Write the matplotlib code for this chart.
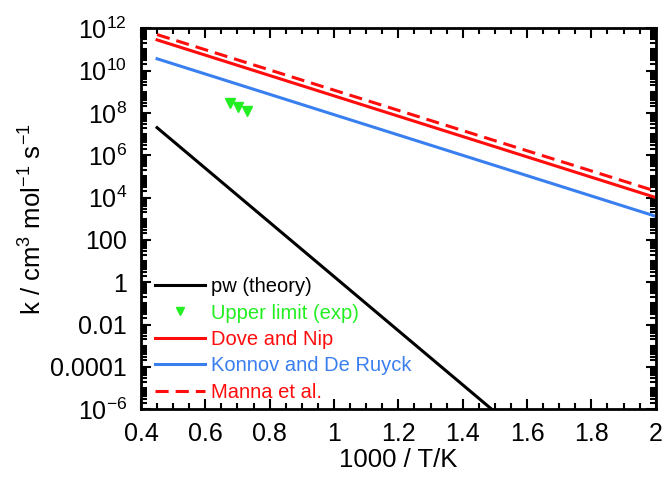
import numpy as np
import matplotlib
matplotlib.use('Agg')
import matplotlib.pyplot as plt
from matplotlib.ticker import FixedLocator, FixedFormatter, LogLocator, MultipleLocator, NullFormatter

plt.rcParams['font.family'] = ['Liberation Sans', 'DejaVu Sans']
plt.rcParams['mathtext.fontset'] = 'custom'
plt.rcParams['mathtext.rm'] = 'Liberation Sans'
plt.rcParams['mathtext.it'] = 'Liberation Sans'

# ==========================
#      Data
# ==========================
# Arrhenius lines: endpoints in 1000/T
pw_x = [0.45, 1.49]
pw_k = [2.0e7, 1.0e-6]

dove_x = [0.45, 2.0]
dove_k = [2.8e11, 1.0e4]

konnov_x = [0.45, 2.0]
konnov_k = [3.6e10, 1.3e3]

manna_x = [0.45, 2.0]
manna_k = [5.0e11, 2.0e4]

exp_x = [0.676, 0.701, 0.729]
exp_k = [2.9e8, 1.9e8, 1.2e8]

ytick_vals = [1e-6, 1e-4, 1e-2, 1, 1e2, 1e4, 1e6, 1e8, 1e10, 1e12]
ytick_labels = [r'$\mathregular{10^{-6}}$', '0.0001', '0.01', '1', '100',
                r'$\mathregular{10^{4}}$', r'$\mathregular{10^{6}}$',
                r'$\mathregular{10^{8}}$', r'$\mathregular{10^{10}}$',
                r'$\mathregular{10^{12}}$']

# ==========================
#        Plotting
# ==========================
fig = plt.figure(figsize=(6.65, 4.78), dpi=100)
ax = fig.add_axes([0.212, 0.144, 0.774, 0.797])

red = '#ff0d0d'
blue = '#3a7ff0'
green = '#22ee22'

ax.plot(pw_x, pw_k, color='black', lw=2.2, label='pw (theory)')
ax.plot(exp_x, exp_k, 'v', color=green, ms=7, ls='none', label='Upper limit (exp)')
ax.plot(dove_x, dove_k, color=red, lw=2.2, label='Dove and Nip')
ax.plot(konnov_x, konnov_k, color=blue, lw=2.2, label='Konnov and De Ruyck')
ax.plot(manna_x, manna_k, color=red, lw=2.2, ls=(0, (4.3, 2.3)), label='Manna et al.')

ax.set_yscale('log')
ax.set_xlim(0.4, 2.0)
ax.set_ylim(1e-6, 1e12)

ax.xaxis.set_major_locator(MultipleLocator(0.2))
ax.xaxis.set_minor_locator(MultipleLocator(0.05))
ax.xaxis.set_major_formatter(plt.FuncFormatter(lambda v, p: '%g' % round(v, 2)))

ax.yaxis.set_major_locator(FixedLocator(ytick_vals))
ax.yaxis.set_major_formatter(FixedFormatter(ytick_labels))
ax.yaxis.set_minor_locator(LogLocator(base=10, subs=np.arange(1, 10), numticks=40))
ax.yaxis.set_minor_formatter(NullFormatter())

ax.tick_params(which='both', direction='in', top=True, right=True, labelsize=18, width=1.5)
ax.tick_params(which='major', length=7)
ax.tick_params(axis='y', which='major', pad=10)
ax.tick_params(axis='x', which='major', pad=9)
ax.tick_params(which='minor', length=4)
for s in ax.spines.values():
    s.set_linewidth(2)

ax.set_xlabel('1000 / T/K', fontsize=18.5, labelpad=2)
ax.set_ylabel(r'k / cm$^3$ mol$^{-1}$ s$^{-1}$', fontsize=18.5, labelpad=3)

leg = ax.legend(loc='lower left', bbox_to_anchor=(0.012, -0.002), frameon=False,
                fontsize=14.5, handlelength=2.45, handletextpad=0.3,
                labelspacing=0.37, borderaxespad=0.0, borderpad=0.4,
                markerscale=0.8, numpoints=1)
for txt, col in zip(leg.get_texts(), ['black', green, red, blue, red]):
    txt.set_color(col)

plt.savefig('out.png', dpi=100)
